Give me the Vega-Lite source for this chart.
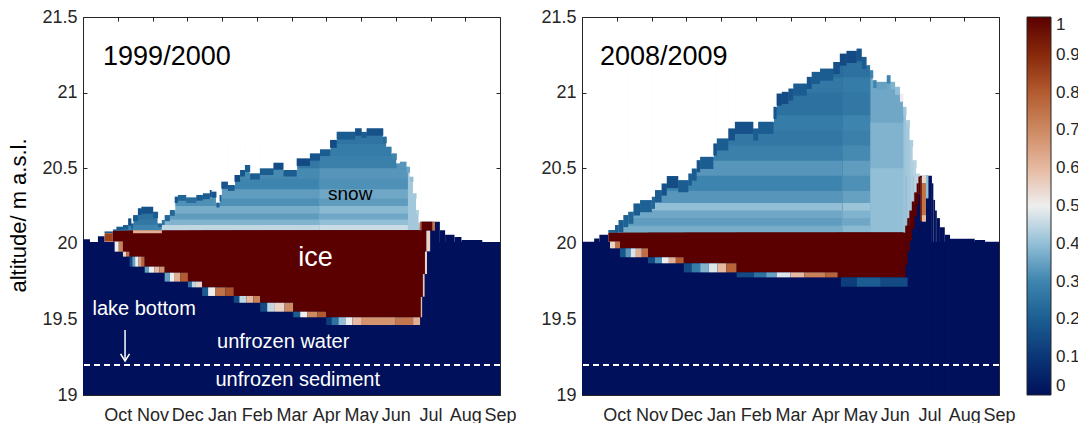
{
  "$schema": "https://vega.github.io/schema/vega-lite/v6.json",
  "background": "white",
  "padding": {"left": 7, "top": 7, "right": 0, "bottom": 0},
  "spacing": 23,
  "config": {
    "view": {"stroke": "#262626", "strokeWidth": 1},
    "font": "Liberation Sans",
    "axis": {"grid": false, "domain": false, "tickColor": "#262626", "tickSize": -4, "tickWidth": 1, "labelColor": "#262626", "labelFont": "Liberation Sans", "labelFontSize": 18, "zindex": 1},
    "legend": {"labelFont": "Liberation Sans"}
  },
  "resolve": {"scale": {"color": "shared"}, "legend": {"color": "shared"}},
  "datasets": {
    "d": [
      {"p":"a","k":"c0","x1":0,"x2":12,"y1":19,"y2":20.012,"v":0},
      {"p":"a","k":"c0","x1":0,"x2":0.2,"y1":19,"y2":20.03,"v":0},
      {"p":"a","k":"c0","x1":0.43,"x2":0.62,"y1":19,"y2":20.05,"v":0},
      {"p":"a","k":"c0","x1":9.7,"x2":10.27,"y1":19,"y2":20.146,"v":0},
      {"p":"a","k":"c0","x1":10.27,"x2":10.42,"y1":19,"y2":20.09,"v":0},
      {"p":"a","k":"c0","x1":10.42,"x2":10.69,"y1":19,"y2":20.06,"v":0},
      {"p":"a","k":"c0","x1":10.69,"x2":10.89,"y1":19,"y2":20.045,"v":0},
      {"p":"a","k":"c0","x1":10.89,"x2":11.49,"y1":19,"y2":20.025,"v":0},
      {"p":"a","k":"c0","x1":0.88,"x2":2.29,"y1":20.087,"y2":20.25,"v":0.23},
      {"p":"a","k":"c0","x1":0.88,"x2":2.29,"y1":20.087,"y2":20.2,"v":0.25},
      {"p":"a","k":"c0","x1":0.88,"x2":2.29,"y1":20.087,"y2":20.16,"v":0.27},
      {"p":"a","k":"c0","x1":0.88,"x2":2.29,"y1":20.087,"y2":20.125,"v":0.3},
      {"p":"a","k":"c0","x1":2.27,"x2":6.82,"y1":20.087,"y2":20.66,"v":0.25},
      {"p":"a","k":"c0","x1":2.27,"x2":6.82,"y1":20.087,"y2":20.58,"v":0.27},
      {"p":"a","k":"c0","x1":2.27,"x2":6.82,"y1":20.087,"y2":20.5,"v":0.31},
      {"p":"a","k":"c0","x1":2.27,"x2":6.82,"y1":20.087,"y2":20.43,"v":0.3},
      {"p":"a","k":"c0","x1":2.27,"x2":6.82,"y1":20.087,"y2":20.36,"v":0.34},
      {"p":"a","k":"c0","x1":2.27,"x2":6.82,"y1":20.087,"y2":20.3,"v":0.32},
      {"p":"a","k":"c0","x1":2.27,"x2":6.82,"y1":20.087,"y2":20.25,"v":0.37},
      {"p":"a","k":"c0","x1":2.27,"x2":6.82,"y1":20.087,"y2":20.2,"v":0.34},
      {"p":"a","k":"c0","x1":2.27,"x2":6.82,"y1":20.087,"y2":20.16,"v":0.38},
      {"p":"a","k":"c0","x1":2.27,"x2":6.82,"y1":20.087,"y2":20.125,"v":0.45},
      {"p":"a","k":"c0","x1":6.8,"x2":9.37,"y1":20.087,"y2":20.8,"v":0.26},
      {"p":"a","k":"c0","x1":6.8,"x2":9.37,"y1":20.087,"y2":20.66,"v":0.28},
      {"p":"a","k":"c0","x1":6.8,"x2":9.37,"y1":20.087,"y2":20.58,"v":0.29},
      {"p":"a","k":"c0","x1":6.8,"x2":9.37,"y1":20.087,"y2":20.5,"v":0.33},
      {"p":"a","k":"c0","x1":6.8,"x2":9.37,"y1":20.087,"y2":20.43,"v":0.32},
      {"p":"a","k":"c0","x1":6.8,"x2":9.37,"y1":20.087,"y2":20.36,"v":0.36},
      {"p":"a","k":"c0","x1":6.8,"x2":9.37,"y1":20.087,"y2":20.3,"v":0.34},
      {"p":"a","k":"c0","x1":6.8,"x2":9.37,"y1":20.087,"y2":20.25,"v":0.39},
      {"p":"a","k":"c0","x1":6.8,"x2":9.37,"y1":20.087,"y2":20.2,"v":0.36},
      {"p":"a","k":"c0","x1":6.8,"x2":9.37,"y1":20.087,"y2":20.16,"v":0.4},
      {"p":"a","k":"c0","x1":6.8,"x2":9.37,"y1":20.087,"y2":20.125,"v":0.46},
      {"p":"a","k":"c0","x1":9.35,"x2":9.7,"y1":20.087,"y2":20.6,"v":0.42},

      {"p":"a","k":"col","x1":0.62,"x2":0.86,"y1":20.07,"y2":20.082,"v":0.2},
      {"p":"a","k":"col","x1":0.86,"x2":0.96,"y1":20.087,"y2":20.095,"v":0.2},
      {"p":"a","k":"col","x1":0.96,"x2":1.15,"y1":20.09,"y2":20.113,"v":0.2},
      {"p":"a","k":"col","x1":1.15,"x2":1.3,"y1":20.095,"y2":20.124,"v":0.2},
      {"p":"a","k":"col","x1":1.3,"x2":1.39,"y1":20.12,"y2":20.168,"v":0.15},
      {"p":"a","k":"col","x1":1.39,"x2":1.44,"y1":20.1,"y2":20.135,"v":0.2},
      {"p":"a","k":"col","x1":1.44,"x2":1.58,"y1":20.15,"y2":20.19,"v":0.2},
      {"p":"a","k":"col","x1":1.58,"x2":1.68,"y1":20.19,"y2":20.235,"v":0.17},
      {"p":"a","k":"col","x1":1.68,"x2":2.02,"y1":20.2,"y2":20.245,"v":0.17},
      {"p":"a","k":"col","x1":2.02,"x2":2.16,"y1":20.17,"y2":20.212,"v":0.2},
      {"p":"a","k":"col","x1":2.16,"x2":2.27,"y1":20.11,"y2":20.135,"v":0.22},
      {"p":"a","k":"col","x1":2.27,"x2":2.35,"y1":20.125,"y2":20.157,"v":0.25},
      {"p":"a","k":"col","x1":2.35,"x2":2.5,"y1":20.15,"y2":20.19,"v":0.22},
      {"p":"a","k":"col","x1":2.5,"x2":2.64,"y1":20.185,"y2":20.223,"v":0.22},
      {"p":"a","k":"col","x1":2.64,"x2":2.73,"y1":20.27,"y2":20.312,"v":0.18},
      {"p":"a","k":"col","x1":2.73,"x2":2.97,"y1":20.285,"y2":20.323,"v":0.22},
      {"p":"a","k":"col","x1":2.97,"x2":3.26,"y1":20.27,"y2":20.307,"v":0.24},
      {"p":"a","k":"col","x1":3.26,"x2":3.45,"y1":20.285,"y2":20.323,"v":0.2},
      {"p":"a","k":"col","x1":3.45,"x2":3.65,"y1":20.295,"y2":20.334,"v":0.2},
      {"p":"a","k":"col","x1":3.65,"x2":3.7,"y1":20.31,"y2":20.356,"v":0.16},
      {"p":"a","k":"col","x1":3.7,"x2":3.84,"y1":20.305,"y2":20.345,"v":0.18},
      {"p":"a","k":"col","x1":3.84,"x2":3.93,"y1":20.24,"y2":20.272,"v":0.22},
      {"p":"a","k":"col","x1":3.93,"x2":3.98,"y1":20.28,"y2":20.323,"v":0.2},
      {"p":"a","k":"col","x1":3.98,"x2":4.17,"y1":20.365,"y2":20.411,"v":0.18},
      {"p":"a","k":"col","x1":4.17,"x2":4.36,"y1":20.35,"y2":20.389,"v":0.2},
      {"p":"a","k":"col","x1":4.36,"x2":4.52,"y1":20.41,"y2":20.455,"v":0.15},
      {"p":"a","k":"col","x1":4.52,"x2":4.66,"y1":20.445,"y2":20.488,"v":0.18},
      {"p":"a","k":"col","x1":4.66,"x2":4.81,"y1":20.475,"y2":20.521,"v":0.2},
      {"p":"a","k":"col","x1":4.81,"x2":5.09,"y1":20.425,"y2":20.466,"v":0.2},
      {"p":"a","k":"col","x1":5.09,"x2":5.48,"y1":20.455,"y2":20.499,"v":0.2},
      {"p":"a","k":"col","x1":5.48,"x2":5.77,"y1":20.49,"y2":20.536,"v":0.16},
      {"p":"a","k":"col","x1":5.77,"x2":6.15,"y1":20.445,"y2":20.488,"v":0.2},
      {"p":"a","k":"col","x1":6.15,"x2":6.53,"y1":20.515,"y2":20.565,"v":0.15},
      {"p":"a","k":"col","x1":6.53,"x2":6.82,"y1":20.55,"y2":20.598,"v":0.18},
      {"p":"a","k":"col","x1":6.82,"x2":7.11,"y1":20.58,"y2":20.625,"v":0.2},
      {"p":"a","k":"col","x1":7.11,"x2":7.3,"y1":20.635,"y2":20.687,"v":0.15},
      {"p":"a","k":"col","x1":7.3,"x2":7.83,"y1":20.69,"y2":20.741,"v":0.2},
      {"p":"a","k":"col","x1":7.83,"x2":8.02,"y1":20.715,"y2":20.764,"v":0.17},
      {"p":"a","k":"col","x1":8.02,"x2":8.16,"y1":20.7,"y2":20.74,"v":0.2},
      {"p":"a","k":"col","x1":8.16,"x2":8.64,"y1":20.715,"y2":20.764,"v":0.17},
      {"p":"a","k":"col","x1":8.64,"x2":8.74,"y1":20.665,"y2":20.709,"v":0.24},
      {"p":"a","k":"col","x1":8.74,"x2":8.88,"y1":20.6,"y2":20.642,"v":0.28},
      {"p":"a","k":"col","x1":8.88,"x2":9.03,"y1":20.555,"y2":20.598,"v":0.3},
      {"p":"a","k":"col","x1":9.03,"x2":9.12,"y1":20.49,"y2":20.532,"v":0.33},
      {"p":"a","k":"col","x1":9.12,"x2":9.31,"y1":20.5,"y2":20.543,"v":0.33},
      {"p":"a","k":"col","x1":9.31,"x2":9.41,"y1":20.47,"y2":20.51,"v":0.36},
      {"p":"a","k":"col","x1":9.41,"x2":9.51,"y1":20.41,"y2":20.444,"v":0.4},
      {"p":"a","k":"col","x1":9.51,"x2":9.6,"y1":20.3,"y2":20.334,"v":0.42},
      {"p":"a","k":"col","x1":9.6,"x2":9.67,"y1":20.19,"y2":20.224,"v":0.44},
      {"p":"a","k":"col","x1":9.67,"x2":9.7,"y1":20.11,"y2":20.137,"v":0.45},

      {"p":"a","k":"c1","x1":0.62,"x2":0.86,"y1":20.014,"y2":20.07,"v":0.85},
      {"p":"a","k":"c1","x1":0.86,"x2":9.7,"y1":20.014,"y2":20.087,"v":1},
      {"p":"a","k":"c1","x1":0.91,"x2":1.03,"y1":19.948,"y2":20.014,"v":0.5},
      {"p":"a","k":"c1","x1":1.03,"x2":1.15,"y1":19.948,"y2":20.014,"v":0.72},
      {"p":"a","k":"c1","x1":1.15,"x2":9.7,"y1":19.948,"y2":20.087,"v":1},
      {"p":"a","k":"c1","x1":1.15,"x2":1.24,"y1":19.915,"y2":19.948,"v":0.55},
      {"p":"a","k":"c1","x1":1.24,"x2":1.34,"y1":19.915,"y2":19.948,"v":0.75},
      {"p":"a","k":"c1","x1":1.34,"x2":9.7,"y1":19.915,"y2":20.087,"v":1},
      {"p":"a","k":"c1","x1":1.34,"x2":1.42,"y1":19.849,"y2":19.915,"v":0.15},
      {"p":"a","k":"c1","x1":1.42,"x2":1.5,"y1":19.849,"y2":19.915,"v":0.35},
      {"p":"a","k":"c1","x1":1.5,"x2":1.6,"y1":19.849,"y2":19.915,"v":0.5},
      {"p":"a","k":"c1","x1":1.6,"x2":1.69,"y1":19.849,"y2":19.915,"v":0.65},
      {"p":"a","k":"c1","x1":1.69,"x2":1.775,"y1":19.849,"y2":19.915,"v":0.78},
      {"p":"a","k":"c1","x1":1.775,"x2":9.7,"y1":19.849,"y2":20.087,"v":1},
      {"p":"a","k":"c1","x1":1.775,"x2":1.9,"y1":19.809,"y2":19.849,"v":0.35},
      {"p":"a","k":"c1","x1":1.9,"x2":2.05,"y1":19.809,"y2":19.849,"v":0.5},
      {"p":"a","k":"c1","x1":2.05,"x2":2.2,"y1":19.809,"y2":19.849,"v":0.6},
      {"p":"a","k":"c1","x1":2.2,"x2":2.35,"y1":19.809,"y2":19.849,"v":0.68},
      {"p":"a","k":"c1","x1":2.35,"x2":9.7,"y1":19.809,"y2":20.087,"v":1},
      {"p":"a","k":"c1","x1":2.35,"x2":2.5,"y1":19.75,"y2":19.809,"v":0.35},
      {"p":"a","k":"c1","x1":2.5,"x2":2.62,"y1":19.75,"y2":19.809,"v":0.5},
      {"p":"a","k":"c1","x1":2.62,"x2":2.8,"y1":19.75,"y2":19.809,"v":0.62},
      {"p":"a","k":"c1","x1":2.8,"x2":3.02,"y1":19.75,"y2":19.809,"v":0.8},
      {"p":"a","k":"c1","x1":3.02,"x2":9.7,"y1":19.75,"y2":20.087,"v":1},
      {"p":"a","k":"c1","x1":3.02,"x2":3.13,"y1":19.712,"y2":19.75,"v":0.25},
      {"p":"a","k":"c1","x1":3.13,"x2":3.25,"y1":19.712,"y2":19.75,"v":0.45},
      {"p":"a","k":"c1","x1":3.25,"x2":3.43,"y1":19.712,"y2":19.75,"v":0.55},
      {"p":"a","k":"c1","x1":3.43,"x2":9.7,"y1":19.712,"y2":20.087,"v":1},
      {"p":"a","k":"c1","x1":3.43,"x2":3.6,"y1":19.655,"y2":19.712,"v":0.2},
      {"p":"a","k":"c1","x1":3.6,"x2":3.8,"y1":19.655,"y2":19.712,"v":0.5},
      {"p":"a","k":"c1","x1":3.8,"x2":4.1,"y1":19.655,"y2":19.712,"v":0.75},
      {"p":"a","k":"c1","x1":4.1,"x2":4.34,"y1":19.655,"y2":19.712,"v":0.82},
      {"p":"a","k":"c1","x1":4.34,"x2":9.7,"y1":19.655,"y2":20.087,"v":1},
      {"p":"a","k":"c1","x1":4.34,"x2":4.5,"y1":19.61,"y2":19.655,"v":0.15},
      {"p":"a","k":"c1","x1":4.5,"x2":4.7,"y1":19.61,"y2":19.655,"v":0.45},
      {"p":"a","k":"c1","x1":4.7,"x2":4.9,"y1":19.61,"y2":19.655,"v":0.6},
      {"p":"a","k":"c1","x1":4.9,"x2":5.1,"y1":19.61,"y2":19.655,"v":0.72},
      {"p":"a","k":"c1","x1":5.1,"x2":9.7,"y1":19.61,"y2":20.087,"v":1},
      {"p":"a","k":"c1","x1":5.1,"x2":5.3,"y1":19.551,"y2":19.61,"v":0.15},
      {"p":"a","k":"c1","x1":5.3,"x2":5.5,"y1":19.551,"y2":19.61,"v":0.45},
      {"p":"a","k":"c1","x1":5.5,"x2":5.8,"y1":19.551,"y2":19.61,"v":0.55},
      {"p":"a","k":"c1","x1":5.8,"x2":6.05,"y1":19.551,"y2":19.61,"v":0.7},
      {"p":"a","k":"c1","x1":6.05,"x2":9.7,"y1":19.551,"y2":20.087,"v":1},
      {"p":"a","k":"c1","x1":6.05,"x2":6.25,"y1":19.514,"y2":19.551,"v":0.2},
      {"p":"a","k":"c1","x1":6.25,"x2":6.45,"y1":19.514,"y2":19.551,"v":0.5},
      {"p":"a","k":"c1","x1":6.45,"x2":6.75,"y1":19.514,"y2":19.551,"v":0.7},
      {"p":"a","k":"c1","x1":6.75,"x2":7.0,"y1":19.514,"y2":19.551,"v":0.8},
      {"p":"a","k":"c1","x1":7.0,"x2":9.7,"y1":19.514,"y2":20.087,"v":1},
      {"p":"a","k":"c1","x1":7.0,"x2":7.15,"y1":19.463,"y2":19.514,"v":0.12},
      {"p":"a","k":"c1","x1":7.15,"x2":7.35,"y1":19.463,"y2":19.514,"v":0.25},
      {"p":"a","k":"c1","x1":7.35,"x2":7.55,"y1":19.463,"y2":19.514,"v":0.4},
      {"p":"a","k":"c1","x1":7.55,"x2":7.75,"y1":19.463,"y2":19.514,"v":0.5},
      {"p":"a","k":"c1","x1":7.75,"x2":8.0,"y1":19.463,"y2":19.514,"v":0.6},
      {"p":"a","k":"c1","x1":8.0,"x2":9.0,"y1":19.463,"y2":19.514,"v":0.68},
      {"p":"a","k":"c1","x1":9.0,"x2":9.5,"y1":19.463,"y2":19.514,"v":0.74},
      {"p":"a","k":"c1","x1":9.5,"x2":9.7,"y1":19.463,"y2":19.514,"v":0.62},
      {"p":"a","k":"c1","x1":1.44,"x2":2.27,"y1":20.07,"y2":20.09,"v":0.62},
      {"p":"a","k":"c1","x1":9.69,"x2":9.75,"y1":20.087,"y2":20.146,"v":0.8},
      {"p":"a","k":"c1","x1":9.75,"x2":10.05,"y1":20.087,"y2":20.146,"v":1},
      {"p":"a","k":"c1","x1":10.05,"x2":10.13,"y1":20.087,"y2":20.146,"v":0.75},
      {"p":"a","k":"c1","x1":9.69,"x2":9.72,"y1":19.514,"y2":19.65,"v":1},
      {"p":"a","k":"c1","x1":9.72,"x2":9.76,"y1":19.514,"y2":19.65,"v":0.6},
      {"p":"a","k":"c1","x1":9.69,"x2":9.78,"y1":19.65,"y2":19.8,"v":1},
      {"p":"a","k":"c1","x1":9.78,"x2":9.83,"y1":19.65,"y2":19.8,"v":0.58},
      {"p":"a","k":"c1","x1":9.69,"x2":9.84,"y1":19.8,"y2":19.95,"v":1},
      {"p":"a","k":"c1","x1":9.84,"x2":9.9,"y1":19.8,"y2":19.95,"v":0.55},
      {"p":"a","k":"c1","x1":9.69,"x2":9.88,"y1":19.95,"y2":20.087,"v":1},
      {"p":"a","k":"c1","x1":9.88,"x2":9.99,"y1":19.95,"y2":20.087,"v":0.55},

      {"p":"b","k":"c0","x1":0,"x2":12,"y1":19,"y2":20.014,"v":0},
      {"p":"b","k":"c0","x1":0.35,"x2":0.5,"y1":19,"y2":20.035,"v":0},
      {"p":"b","k":"c0","x1":0.5,"x2":0.757,"y1":19,"y2":20.06,"v":0},
      {"p":"b","k":"c0","x1":9.25,"x2":10.07,"y1":19,"y2":20.45,"v":0},
      {"p":"b","k":"c0","x1":10.07,"x2":10.11,"y1":19,"y2":20.4,"v":0},
      {"p":"b","k":"c0","x1":10.11,"x2":10.16,"y1":19,"y2":20.29,"v":0},
      {"p":"b","k":"c0","x1":10.16,"x2":10.21,"y1":19,"y2":20.22,"v":0},
      {"p":"b","k":"c0","x1":10.21,"x2":10.3,"y1":19,"y2":20.17,"v":0},
      {"p":"b","k":"c0","x1":10.3,"x2":10.44,"y1":19,"y2":20.11,"v":0},
      {"p":"b","k":"c0","x1":10.44,"x2":10.59,"y1":19,"y2":20.06,"v":0},
      {"p":"b","k":"c0","x1":10.59,"x2":11.3,"y1":19,"y2":20.033,"v":0},
      {"p":"b","k":"c0","x1":11.3,"x2":11.6,"y1":19,"y2":20.025,"v":0},
      {"p":"b","k":"c0","x1":0.78,"x2":7.52,"y1":20.073,"y2":21.25,"v":0.24},
      {"p":"b","k":"c0","x1":0.78,"x2":7.52,"y1":20.073,"y2":21.1,"v":0.27},
      {"p":"b","k":"c0","x1":0.78,"x2":7.52,"y1":20.073,"y2":21.0,"v":0.25},
      {"p":"b","k":"c0","x1":0.78,"x2":7.52,"y1":20.073,"y2":20.85,"v":0.28},
      {"p":"b","k":"c0","x1":0.78,"x2":7.52,"y1":20.073,"y2":20.75,"v":0.27},
      {"p":"b","k":"c0","x1":0.78,"x2":7.52,"y1":20.073,"y2":20.65,"v":0.29},
      {"p":"b","k":"c0","x1":0.78,"x2":7.52,"y1":20.073,"y2":20.55,"v":0.33},
      {"p":"b","k":"c0","x1":0.78,"x2":7.52,"y1":20.073,"y2":20.45,"v":0.3},
      {"p":"b","k":"c0","x1":0.78,"x2":7.52,"y1":20.073,"y2":20.35,"v":0.33},
      {"p":"b","k":"c0","x1":0.78,"x2":7.52,"y1":20.073,"y2":20.27,"v":0.4},
      {"p":"b","k":"c0","x1":0.78,"x2":7.52,"y1":20.073,"y2":20.22,"v":0.36},
      {"p":"b","k":"c0","x1":0.78,"x2":7.52,"y1":20.073,"y2":20.17,"v":0.34},
      {"p":"b","k":"c0","x1":0.78,"x2":7.52,"y1":20.073,"y2":20.12,"v":0.37},
      {"p":"b","k":"c0","x1":7.5,"x2":8.32,"y1":20.073,"y2":21.3,"v":0.23},
      {"p":"b","k":"c0","x1":7.5,"x2":8.32,"y1":20.073,"y2":21.2,"v":0.25},
      {"p":"b","k":"c0","x1":7.5,"x2":8.32,"y1":20.073,"y2":21.1,"v":0.28},
      {"p":"b","k":"c0","x1":7.5,"x2":8.32,"y1":20.073,"y2":21.0,"v":0.27},
      {"p":"b","k":"c0","x1":7.5,"x2":8.32,"y1":20.073,"y2":20.85,"v":0.3},
      {"p":"b","k":"c0","x1":7.5,"x2":8.32,"y1":20.073,"y2":20.75,"v":0.29},
      {"p":"b","k":"c0","x1":7.5,"x2":8.32,"y1":20.073,"y2":20.65,"v":0.31},
      {"p":"b","k":"c0","x1":7.5,"x2":8.32,"y1":20.073,"y2":20.55,"v":0.34},
      {"p":"b","k":"c0","x1":7.5,"x2":8.32,"y1":20.073,"y2":20.45,"v":0.32},
      {"p":"b","k":"c0","x1":7.5,"x2":8.32,"y1":20.073,"y2":20.35,"v":0.35},
      {"p":"b","k":"c0","x1":7.5,"x2":8.32,"y1":20.073,"y2":20.27,"v":0.41},
      {"p":"b","k":"c0","x1":7.5,"x2":8.32,"y1":20.073,"y2":20.22,"v":0.38},
      {"p":"b","k":"c0","x1":7.5,"x2":8.32,"y1":20.073,"y2":20.17,"v":0.36},
      {"p":"b","k":"c0","x1":7.5,"x2":8.32,"y1":20.073,"y2":20.12,"v":0.39},
      {"p":"b","k":"c0","x1":8.3,"x2":9.27,"y1":20.073,"y2":21.2,"v":0.36},
      {"p":"b","k":"c0","x1":8.3,"x2":9.27,"y1":20.073,"y2":20.8,"v":0.38},
      {"p":"b","k":"c0","x1":8.3,"x2":9.27,"y1":20.073,"y2":20.5,"v":0.4},
      {"p":"b","k":"c0","x1":9.25,"x2":9.35,"y1":20.073,"y2":20.906,"v":0.41},
      {"p":"b","k":"c0","x1":9.34,"x2":9.45,"y1":20.12,"y2":20.818,"v":0.42},
      {"p":"b","k":"c0","x1":9.44,"x2":9.54,"y1":20.2,"y2":20.686,"v":0.43},
      {"p":"b","k":"c0","x1":9.53,"x2":9.64,"y1":20.26,"y2":20.553,"v":0.44},
      {"p":"b","k":"c0","x1":9.63,"x2":9.72,"y1":20.33,"y2":20.465,"v":0.45},

      {"p":"b","k":"col","x1":0.757,"x2":0.95,"y1":20.073,"y2":20.091,"v":0.22},
      {"p":"b","k":"col","x1":0.95,"x2":1.05,"y1":20.073,"y2":20.124,"v":0.2},
      {"p":"b","k":"col","x1":1.05,"x2":1.19,"y1":20.077,"y2":20.157,"v":0.2},
      {"p":"b","k":"col","x1":1.19,"x2":1.33,"y1":20.11,"y2":20.19,"v":0.21},
      {"p":"b","k":"col","x1":1.33,"x2":1.48,"y1":20.132,"y2":20.212,"v":0.22},
      {"p":"b","k":"col","x1":1.48,"x2":1.67,"y1":20.187,"y2":20.267,"v":0.2},
      {"p":"b","k":"col","x1":1.67,"x2":2.01,"y1":20.209,"y2":20.289,"v":0.21},
      {"p":"b","k":"col","x1":2.01,"x2":2.1,"y1":20.231,"y2":20.311,"v":0.22},
      {"p":"b","k":"col","x1":2.1,"x2":2.29,"y1":20.275,"y2":20.355,"v":0.2},
      {"p":"b","k":"col","x1":2.29,"x2":2.44,"y1":20.319,"y2":20.399,"v":0.17},
      {"p":"b","k":"col","x1":2.44,"x2":2.77,"y1":20.368,"y2":20.448,"v":0.16},
      {"p":"b","k":"col","x1":2.77,"x2":3.06,"y1":20.341,"y2":20.421,"v":0.2},
      {"p":"b","k":"col","x1":3.06,"x2":3.16,"y1":20.385,"y2":20.465,"v":0.2},
      {"p":"b","k":"col","x1":3.16,"x2":3.3,"y1":20.418,"y2":20.498,"v":0.2},
      {"p":"b","k":"col","x1":3.3,"x2":3.4,"y1":20.473,"y2":20.553,"v":0.18},
      {"p":"b","k":"col","x1":3.4,"x2":3.78,"y1":20.495,"y2":20.575,"v":0.2},
      {"p":"b","k":"col","x1":3.78,"x2":3.88,"y1":20.584,"y2":20.664,"v":0.17},
      {"p":"b","k":"col","x1":3.88,"x2":4.21,"y1":20.617,"y2":20.697,"v":0.2},
      {"p":"b","k":"col","x1":4.21,"x2":4.4,"y1":20.683,"y2":20.763,"v":0.17},
      {"p":"b","k":"col","x1":4.4,"x2":4.93,"y1":20.727,"y2":20.807,"v":0.17},
      {"p":"b","k":"col","x1":4.93,"x2":5.07,"y1":20.683,"y2":20.763,"v":0.2},
      {"p":"b","k":"col","x1":5.07,"x2":5.51,"y1":20.727,"y2":20.807,"v":0.2},
      {"p":"b","k":"col","x1":5.51,"x2":5.6,"y1":20.826,"y2":20.906,"v":0.18},
      {"p":"b","k":"col","x1":5.6,"x2":5.75,"y1":20.914,"y2":20.994,"v":0.15},
      {"p":"b","k":"col","x1":5.75,"x2":5.94,"y1":20.925,"y2":21.005,"v":0.16},
      {"p":"b","k":"col","x1":5.94,"x2":6.08,"y1":20.947,"y2":21.027,"v":0.18},
      {"p":"b","k":"col","x1":6.08,"x2":6.47,"y1":20.98,"y2":21.06,"v":0.2},
      {"p":"b","k":"col","x1":6.47,"x2":6.61,"y1":21.024,"y2":21.104,"v":0.18},
      {"p":"b","k":"col","x1":6.61,"x2":6.85,"y1":21.057,"y2":21.137,"v":0.2},
      {"p":"b","k":"col","x1":6.85,"x2":7.23,"y1":21.079,"y2":21.159,"v":0.2},
      {"p":"b","k":"col","x1":7.23,"x2":7.42,"y1":21.123,"y2":21.203,"v":0.17},
      {"p":"b","k":"col","x1":7.42,"x2":7.61,"y1":21.178,"y2":21.258,"v":0.15},
      {"p":"b","k":"col","x1":7.61,"x2":7.9,"y1":21.196,"y2":21.276,"v":0.15},
      {"p":"b","k":"col","x1":7.9,"x2":8.05,"y1":21.211,"y2":21.291,"v":0.17},
      {"p":"b","k":"col","x1":8.05,"x2":8.19,"y1":21.156,"y2":21.236,"v":0.2},
      {"p":"b","k":"col","x1":8.19,"x2":8.29,"y1":21.121,"y2":21.181,"v":0.25},
      {"p":"b","k":"col","x1":8.29,"x2":8.38,"y1":21.095,"y2":21.148,"v":0.3},
      {"p":"b","k":"col","x1":8.38,"x2":8.48,"y1":21.03,"y2":21.082,"v":0.3},
      {"p":"b","k":"col","x1":8.48,"x2":8.77,"y1":21.02,"y2":21.071,"v":0.35},
      {"p":"b","k":"col","x1":8.77,"x2":8.88,"y1":21.06,"y2":21.115,"v":0.3},
      {"p":"b","k":"col","x1":8.88,"x2":9.01,"y1":21.02,"y2":21.071,"v":0.38},
      {"p":"b","k":"col","x1":9.01,"x2":9.15,"y1":20.985,"y2":21.038,"v":0.4},
      {"p":"b","k":"col","x1":9.15,"x2":9.25,"y1":20.94,"y2":20.994,"v":0.5},
      {"p":"b","k":"col","x1":9.25,"x2":9.34,"y1":20.85,"y2":20.906,"v":0.42},
      {"p":"b","k":"col","x1":9.34,"x2":9.44,"y1":20.77,"y2":20.818,"v":0.43},
      {"p":"b","k":"col","x1":9.44,"x2":9.53,"y1":20.64,"y2":20.686,"v":0.43},
      {"p":"b","k":"col","x1":9.53,"x2":9.63,"y1":20.5,"y2":20.553,"v":0.44},
      {"p":"b","k":"col","x1":9.63,"x2":9.72,"y1":20.42,"y2":20.465,"v":0.45},

      {"p":"b","k":"c1","x1":0.757,"x2":9.25,"y1":20.014,"y2":20.073,"v":1},
      {"p":"b","k":"c1","x1":0.806,"x2":0.95,"y1":19.97,"y2":20.014,"v":0.55},
      {"p":"b","k":"c1","x1":0.95,"x2":1.094,"y1":19.97,"y2":20.014,"v":0.75},
      {"p":"b","k":"c1","x1":1.094,"x2":9.25,"y1":19.97,"y2":20.073,"v":1},
      {"p":"b","k":"c1","x1":1.094,"x2":1.25,"y1":19.911,"y2":19.97,"v":0.18},
      {"p":"b","k":"c1","x1":1.25,"x2":1.4,"y1":19.911,"y2":19.97,"v":0.33},
      {"p":"b","k":"c1","x1":1.4,"x2":1.55,"y1":19.911,"y2":19.97,"v":0.48},
      {"p":"b","k":"c1","x1":1.55,"x2":1.72,"y1":19.911,"y2":19.97,"v":0.62},
      {"p":"b","k":"c1","x1":1.72,"x2":1.9,"y1":19.911,"y2":19.97,"v":0.76},
      {"p":"b","k":"c1","x1":1.9,"x2":9.25,"y1":19.911,"y2":20.073,"v":1},
      {"p":"b","k":"c1","x1":1.9,"x2":2.1,"y1":19.871,"y2":19.911,"v":0.15},
      {"p":"b","k":"c1","x1":2.1,"x2":2.3,"y1":19.871,"y2":19.911,"v":0.32},
      {"p":"b","k":"c1","x1":2.3,"x2":2.5,"y1":19.871,"y2":19.911,"v":0.5},
      {"p":"b","k":"c1","x1":2.5,"x2":2.7,"y1":19.871,"y2":19.911,"v":0.62},
      {"p":"b","k":"c1","x1":2.7,"x2":2.93,"y1":19.871,"y2":19.911,"v":0.8},
      {"p":"b","k":"c1","x1":2.93,"x2":9.25,"y1":19.871,"y2":20.073,"v":1},
      {"p":"b","k":"c1","x1":2.93,"x2":3.15,"y1":19.811,"y2":19.871,"v":0.15},
      {"p":"b","k":"c1","x1":3.15,"x2":3.4,"y1":19.811,"y2":19.871,"v":0.28},
      {"p":"b","k":"c1","x1":3.4,"x2":3.65,"y1":19.811,"y2":19.871,"v":0.38},
      {"p":"b","k":"c1","x1":3.65,"x2":3.9,"y1":19.811,"y2":19.871,"v":0.48},
      {"p":"b","k":"c1","x1":3.9,"x2":4.15,"y1":19.811,"y2":19.871,"v":0.6},
      {"p":"b","k":"c1","x1":4.15,"x2":4.45,"y1":19.811,"y2":19.871,"v":0.78},
      {"p":"b","k":"c1","x1":4.45,"x2":9.25,"y1":19.811,"y2":20.073,"v":1},
      {"p":"b","k":"c1","x1":4.45,"x2":4.94,"y1":19.778,"y2":19.811,"v":0.15},
      {"p":"b","k":"c1","x1":4.94,"x2":5.3,"y1":19.778,"y2":19.811,"v":0.25},
      {"p":"b","k":"c1","x1":5.3,"x2":5.6,"y1":19.778,"y2":19.811,"v":0.35},
      {"p":"b","k":"c1","x1":5.6,"x2":6.0,"y1":19.778,"y2":19.811,"v":0.48},
      {"p":"b","k":"c1","x1":6.0,"x2":6.4,"y1":19.778,"y2":19.811,"v":0.6},
      {"p":"b","k":"c1","x1":6.4,"x2":7.0,"y1":19.778,"y2":19.811,"v":0.72},
      {"p":"b","k":"c1","x1":7.0,"x2":7.36,"y1":19.778,"y2":19.811,"v":0.78},
      {"p":"b","k":"c1","x1":7.36,"x2":9.25,"y1":19.778,"y2":20.073,"v":1},
      {"p":"b","k":"c1","x1":7.45,"x2":7.9,"y1":19.716,"y2":19.778,"v":0.12},
      {"p":"b","k":"c1","x1":7.9,"x2":8.6,"y1":19.716,"y2":19.778,"v":0.2},
      {"p":"b","k":"c1","x1":8.6,"x2":9.37,"y1":19.716,"y2":19.778,"v":0.15},
      {"p":"b","k":"c1","x1":9.24,"x2":9.31,"y1":19.778,"y2":20.073,"v":1},
      {"p":"b","k":"c1","x1":9.3,"x2":9.37,"y1":19.86,"y2":20.12,"v":1},
      {"p":"b","k":"c1","x1":9.36,"x2":9.43,"y1":19.95,"y2":20.17,"v":1},
      {"p":"b","k":"c1","x1":9.42,"x2":9.5,"y1":20.02,"y2":20.22,"v":1},
      {"p":"b","k":"c1","x1":9.49,"x2":9.57,"y1":20.1,"y2":20.28,"v":1},
      {"p":"b","k":"c1","x1":9.56,"x2":9.64,"y1":20.18,"y2":20.34,"v":1},
      {"p":"b","k":"c1","x1":9.63,"x2":9.69,"y1":20.26,"y2":20.4,"v":1},
      {"p":"b","k":"c1","x1":9.68,"x2":9.74,"y1":20.33,"y2":20.445,"v":1},
      {"p":"b","k":"c1","x1":9.73,"x2":9.78,"y1":20.15,"y2":20.44,"v":0.92},
      {"p":"b","k":"c1","x1":9.78,"x2":9.9,"y1":20.19,"y2":20.4,"v":0.75},
      {"p":"b","k":"c1","x1":9.78,"x2":9.9,"y1":20.4,"y2":20.455,"v":0.55},
      {"p":"b","k":"c1","x1":9.78,"x2":9.9,"y1":20.146,"y2":20.19,"v":0.6},
      {"p":"b","k":"c1","x1":9.9,"x2":9.97,"y1":20.3,"y2":20.455,"v":0.4},

      {"p":"a","k":"ttl","x1":2.414,"y1":21.183,"t":"1999/2000"},
      {"p":"b","k":"ttl","x1":2.354,"y1":21.183,"t":"2008/2009"},
      {"p":"a","k":"ice","x1":6.69,"y1":19.855,"t":"ice"},
      {"p":"a","k":"snow","x1":7.69,"y1":20.29,"t":"snow"},
      {"p":"a","k":"lab","x1":1.76,"y1":19.529,"t":"lake bottom"},
      {"p":"a","k":"lab","x1":5.76,"y1":19.313,"t":"unfrozen water"},
      {"p":"a","k":"lab","x1":6.18,"y1":19.062,"t":"unfrozen sediment"},
      {"p":"a","k":"arr","x1":1.21,"y1":19.43,"y2":19.225}
    ]
  },
  "hconcat": [
    {
      "width": 417,
      "height": 378,
      "data": {"name": "d"},
      "transform": [{"filter": "datum.p == 'a'"}],
      "resolve": {"axis": {"x": "independent", "y": "independent"}},
      "layer": [
        {
          "transform": [{"filter": "datum.k == 'c0'"}],
          "mark": {"type": "rect"},
          "encoding": {
            "x": {"field": "x1", "type": "quantitative", "scale": {"domain": [0, 12], "nice": false, "zero": false},
                  "axis": {"orient": "bottom", "values": [0,1,2,3,4,5,6,7,8,9,10,11,12], "labelExpr": "['','Oct','Nov','Dec','Jan','Feb','Mar','Apr','May','Jun','Jul','Aug','Sep'][datum.value]", "title": null, "labelFlush": false, "labelOverlap": false, "labelPadding": 15}},
            "x2": {"field": "x2"},
            "y": {"field": "y1", "type": "quantitative", "scale": {"domain": [19, 21.5], "nice": false, "zero": false},
                  "axis": {"orient": "left", "values": [19,19.5,20,20.5,21,21.5], "format": "~g", "labelPadding": 10, "labelFlush": false, "labelOverlap": false, "minExtent": 41, "maxExtent": 41, "title": "altitude/ m a.s.l.", "titleFont": "Liberation Sans", "titleFontSize": 22, "titleFontWeight": "normal", "titleColor": "black", "titlePadding": 11.5, "titleY": 198}},
            "y2": {"field": "y2"},
            "color": {"field": "v", "type": "quantitative",
                      "scale": {"type": "linear", "domain": [0,0.1,0.2,0.3,0.4,0.5,0.6,0.7,0.8,0.9,1], "range": ["#00105a","#0a3676","#1b5d91","#3d84ae","#92bfd6","#eeeeee","#e6b9a0","#cd8a62","#b35b30","#88290b","#5a0000"], "interpolate": "rgb"},
                      "legend": {"type": "gradient", "title": null, "orient": "right", "direction": "vertical", "gradientLength": 378, "gradientThickness": 24, "values": [0,0.1,0.2,0.3,0.4,0.5,0.6,0.7,0.8,0.9,1], "format": "~g", "labelFontSize": 17, "labelOffset": 5, "labelColor": "#262626", "labelBaseline": "middle", "gradientStrokeColor": "#262626", "gradientStrokeWidth": 1, "offset": 11}}
          }
        },
        {
          "transform": [{"filter": "datum.k == 'col'"}],
          "mark": {"type": "rect", "color": "white", "stroke": "white", "strokeWidth": 1},
          "encoding": {
            "x": {"field": "x1", "type": "quantitative", "axis": null},
            "x2": {"field": "x2"},
            "y": {"field": "y2", "type": "quantitative", "axis": null},
            "y2": {"datum": 21.4}
          }
        },
        {
          "transform": [{"filter": "datum.k == 'col'"}],
          "mark": {"type": "rect"},
          "encoding": {
            "x": {"field": "x1", "type": "quantitative", "axis": {"orient": "top", "values": [0,1,2,3,4,5,6,7,8,9,10,11,12], "labels": false, "title": null, "minExtent": 0, "maxExtent": 0}},
            "x2": {"field": "x2"},
            "y": {"field": "y1", "type": "quantitative", "axis": {"orient": "right", "values": [19,19.5,20,20.5,21,21.5], "labels": false, "title": null, "minExtent": 0, "maxExtent": 0}},
            "y2": {"field": "y2"},
            "color": {"field": "v", "type": "quantitative"}
          }
        },
        {
          "transform": [{"filter": "datum.k == 'c1'"}],
          "mark": {"type": "rect"},
          "encoding": {
            "x": {"field": "x1", "type": "quantitative", "axis": null},
            "x2": {"field": "x2"},
            "y": {"field": "y1", "type": "quantitative", "axis": null},
            "y2": {"field": "y2"},
            "color": {"field": "v", "type": "quantitative"}
          }
        },
        {
          "mark": {"type": "rule", "color": "white", "strokeDash": [6, 4], "strokeWidth": 1.2},
          "encoding": {"y": {"datum": 19.2, "type": "quantitative", "axis": null}}
        },
        {
          "transform": [{"filter": "datum.k == 'arr'"}],
          "mark": {"type": "rule", "color": "white", "strokeWidth": 1.5},
          "encoding": {
            "x": {"field": "x1", "type": "quantitative", "axis": null},
            "y": {"field": "y1", "type": "quantitative", "axis": null},
            "y2": {"field": "y2"}
          }
        },
        {
          "transform": [{"filter": "datum.k == 'arr'"}],
          "mark": {"type": "point", "shape": "M-1,-1.6L0,0L1,-1.6", "filled": false, "stroke": "white", "strokeWidth": 1.5, "size": 81, "opacity": 1},
          "encoding": {
            "x": {"field": "x1", "type": "quantitative", "axis": null},
            "y": {"field": "y2", "type": "quantitative", "axis": null}
          }
        },
        {
          "transform": [{"filter": "datum.k == 'ttl'"}],
          "mark": {"type": "text", "font": "Liberation Sans", "fontSize": 27, "color": "black", "align": "center", "baseline": "alphabetic"},
          "encoding": {
            "x": {"field": "x1", "type": "quantitative", "axis": null},
            "y": {"field": "y1", "type": "quantitative", "axis": null},
            "text": {"field": "t"}
          }
        },
        {
          "transform": [{"filter": "datum.k == 'ice'"}],
          "mark": {"type": "text", "font": "Liberation Sans", "fontSize": 27, "color": "white", "align": "center", "baseline": "alphabetic"},
          "encoding": {
            "x": {"field": "x1", "type": "quantitative", "axis": null},
            "y": {"field": "y1", "type": "quantitative", "axis": null},
            "text": {"field": "t"}
          }
        },
        {
          "transform": [{"filter": "datum.k == 'snow'"}],
          "mark": {"type": "text", "font": "Liberation Sans", "fontSize": 19, "color": "black", "align": "center", "baseline": "alphabetic"},
          "encoding": {
            "x": {"field": "x1", "type": "quantitative", "axis": null},
            "y": {"field": "y1", "type": "quantitative", "axis": null},
            "text": {"field": "t"}
          }
        },
        {
          "transform": [{"filter": "datum.k == 'lab'"}],
          "mark": {"type": "text", "font": "Liberation Sans", "fontSize": 20, "color": "white", "align": "center", "baseline": "alphabetic"},
          "encoding": {
            "x": {"field": "x1", "type": "quantitative", "axis": null},
            "y": {"field": "y1", "type": "quantitative", "axis": null},
            "text": {"field": "t"}
          }
        }
      ]
    },
    {
      "width": 417,
      "height": 378,
      "data": {"name": "d"},
      "transform": [{"filter": "datum.p == 'b'"}],
      "resolve": {"axis": {"x": "independent", "y": "independent"}},
      "layer": [
        {
          "transform": [{"filter": "datum.k == 'c0'"}],
          "mark": {"type": "rect"},
          "encoding": {
            "x": {"field": "x1", "type": "quantitative", "scale": {"domain": [0, 12], "nice": false, "zero": false},
                  "axis": {"orient": "bottom", "values": [0,1,2,3,4,5,6,7,8,9,10,11,12], "labelExpr": "['','Oct','Nov','Dec','Jan','Feb','Mar','Apr','May','Jun','Jul','Aug','Sep'][datum.value]", "title": null, "labelFlush": false, "labelOverlap": false, "labelPadding": 15}},
            "x2": {"field": "x2"},
            "y": {"field": "y1", "type": "quantitative", "scale": {"domain": [19, 21.5], "nice": false, "zero": false},
                  "axis": {"orient": "left", "values": [19,19.5,20,20.5,21,21.5], "format": "~g", "labelPadding": 10, "labelFlush": false, "labelOverlap": false, "minExtent": 41, "maxExtent": 41, "title": null}},
            "y2": {"field": "y2"},
            "color": {"field": "v", "type": "quantitative",
                      "scale": {"type": "linear", "domain": [0,0.1,0.2,0.3,0.4,0.5,0.6,0.7,0.8,0.9,1], "range": ["#00105a","#0a3676","#1b5d91","#3d84ae","#92bfd6","#eeeeee","#e6b9a0","#cd8a62","#b35b30","#88290b","#5a0000"], "interpolate": "rgb"}}
          }
        },
        {
          "transform": [{"filter": "datum.k == 'col'"}],
          "mark": {"type": "rect", "color": "white", "stroke": "white", "strokeWidth": 1},
          "encoding": {
            "x": {"field": "x1", "type": "quantitative", "axis": null},
            "x2": {"field": "x2"},
            "y": {"field": "y2", "type": "quantitative", "axis": null},
            "y2": {"datum": 21.4}
          }
        },
        {
          "transform": [{"filter": "datum.k == 'col'"}],
          "mark": {"type": "rect"},
          "encoding": {
            "x": {"field": "x1", "type": "quantitative", "axis": {"orient": "top", "values": [0,1,2,3,4,5,6,7,8,9,10,11,12], "labels": false, "title": null, "minExtent": 0, "maxExtent": 0}},
            "x2": {"field": "x2"},
            "y": {"field": "y1", "type": "quantitative", "axis": {"orient": "right", "values": [19,19.5,20,20.5,21,21.5], "labels": false, "title": null, "minExtent": 0, "maxExtent": 0}},
            "y2": {"field": "y2"},
            "color": {"field": "v", "type": "quantitative"}
          }
        },
        {
          "transform": [{"filter": "datum.k == 'c1'"}],
          "mark": {"type": "rect"},
          "encoding": {
            "x": {"field": "x1", "type": "quantitative", "axis": null},
            "x2": {"field": "x2"},
            "y": {"field": "y1", "type": "quantitative", "axis": null},
            "y2": {"field": "y2"},
            "color": {"field": "v", "type": "quantitative"}
          }
        },
        {
          "mark": {"type": "rule", "color": "white", "strokeDash": [6, 4], "strokeWidth": 1.2},
          "encoding": {"y": {"datum": 19.2, "type": "quantitative", "axis": null}}
        },
        {
          "transform": [{"filter": "datum.k == 'ttl'"}],
          "mark": {"type": "text", "font": "Liberation Sans", "fontSize": 27, "color": "black", "align": "center", "baseline": "alphabetic"},
          "encoding": {
            "x": {"field": "x1", "type": "quantitative", "axis": null},
            "y": {"field": "y1", "type": "quantitative", "axis": null},
            "text": {"field": "t"}
          }
        }
      ]
    }
  ]
}
